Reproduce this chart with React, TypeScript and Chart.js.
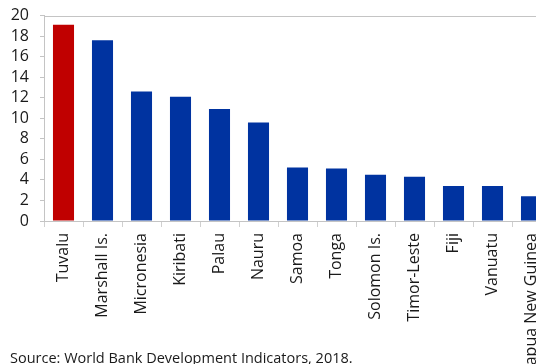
import React, { useEffect, useRef } from "react";
import { Chart, registerables } from "chart.js";

Chart.register(...registerables);

const categories = [
  "Tuvalu",
  "Marshall Is.",
  "Micronesia",
  "Kiribati",
  "Palau",
  "Nauru",
  "Samoa",
  "Tonga",
  "Solomon Is.",
  "Timor-Leste",
  "Fiji",
  "Vanuatu",
  "Papua New Guinea",
];
const values = [19.1, 17.6, 12.6, 12.1, 10.9, 9.6, 5.2, 5.1, 4.5, 4.3, 3.4, 3.4, 2.4];
const highlight = ["Tuvalu"];
const yTicks = [0, 2, 4, 6, 8, 10, 12, 14, 16, 18, 20];
const sourceText = "Source: World Bank Development Indicators, 2018.";

const FONT = "'Open Sans', 'Noto Sans', sans-serif";

const borderPlugin = {
  id: "plotBorder",
  afterDraw(chart: any) {
    const { ctx, chartArea } = chart;
    ctx.save();
    ctx.strokeStyle = "#c4c4c4";
    ctx.lineWidth = 1;
    ctx.strokeRect(
      Math.round(chartArea.left) + 0.5,
      Math.round(chartArea.top) + 0.5,
      Math.round(chartArea.right - chartArea.left),
      Math.round(chartArea.bottom - chartArea.top)
    );
    ctx.restore();
  },
};

export default function App() {
  const ref = useRef<HTMLCanvasElement | null>(null);

  useEffect(() => {
    document.body.style.margin = "0";
    const canvas = ref.current;
    if (!canvas) return;
    const chart = new Chart(canvas, {
      type: "bar",
      data: {
        labels: categories,
        datasets: [
          {
            data: values,
            backgroundColor: categories.map((c) => (highlight.includes(c) ? "#c00000" : "#0033a0")),
            borderWidth: 0,
            barPercentage: 0.54,
            categoryPercentage: 1,
          },
        ],
      },
      options: {
        responsive: false,
        animation: false,
        layout: { padding: { top: 10, right: 19, left: 0, bottom: 0 } },
        plugins: {
          legend: { display: false },
          tooltip: { enabled: false },
        },
        scales: {
          x: {
            grid: {
              display: true,
              drawOnChartArea: false,
              drawTicks: true,
              tickLength: 6,
              color: "#d0d0d0",
              offset: true,
            },
            border: { display: true, color: "#c4c4c4" },
            ticks: {
              minRotation: 90,
              maxRotation: 90,
              autoSkip: false,
              padding: 6,
              color: "#1a1a1a",
              font: { family: FONT, size: 16 },
            },
            afterFit(scale: any) {
              scale.height = 143;
            },
          },
          y: {
            min: 0,
            max: 20,
            afterBuildTicks(scale: any) {
              scale.ticks = yTicks.map((v) => ({ value: v }));
            },
            grid: {
              display: true,
              drawOnChartArea: false,
              drawTicks: true,
              tickLength: 4,
              color: "#c4c4c4",
            },
            border: { display: true, color: "#c4c4c4" },
            ticks: {
              autoSkip: false,
              padding: 11,
              color: "#1a1a1a",
              font: { family: FONT, size: 16 },
            },
            afterFit(scale: any) {
              scale.width = 44;
            },
          },
        },
      },
      plugins: [borderPlugin],
    });
    return () => chart.destroy();
  }, []);

  return (
    <div
      style={{
        position: "fixed",
        left: 0,
        top: 0,
        width: 536,
        height: 364,
        overflow: "hidden",
        background: "#fff",
      }}
    >
      <canvas
        ref={ref}
        width={570}
        height={369}
        style={{ position: "absolute", left: 0, top: -5, width: 570, height: 369 }}
      />
      <div
        style={{
          position: "absolute",
          left: 10,
          top: 349,
          fontFamily: FONT,
          fontSize: 14.5,
          lineHeight: "18px",
          color: "#1a1a1a",
          whiteSpace: "nowrap",
        }}
      >
        {sourceText}
      </div>
    </div>
  );
}
